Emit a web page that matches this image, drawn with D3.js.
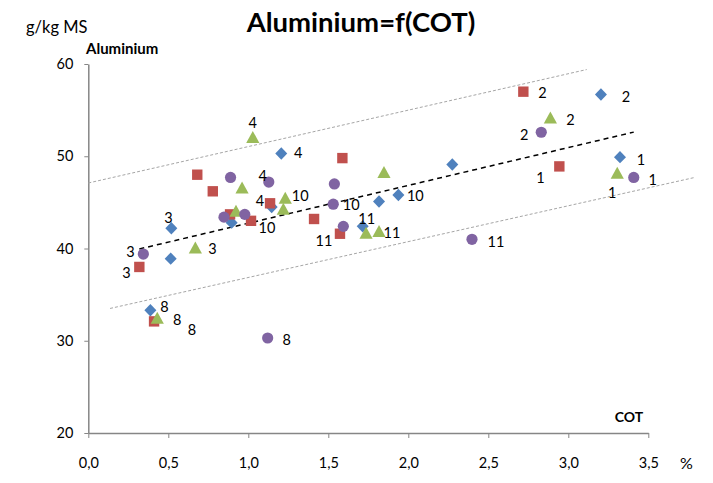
<!DOCTYPE html>
<html>
<head>
<meta charset="utf-8">
<script src="https://cdn.jsdelivr.net/npm/d3@7"></script>
<style>
  html, body { margin: 0; padding: 0; background: #ffffff; }
  svg { display: block; }
  text { font-family: Lato, "Open Sans", sans-serif; fill: #000; }
</style>
</head>
<body>
<svg id="chart" width="713" height="483"></svg>
<script>
// Aluminium content (g/kg MS) against total organic carbon (COT, %), four sampling campaigns
const seriesNames = ["Campagne 1", "Campagne 2", "Campagne 3", "Campagne 4"];

const cotBlue = [0.388, 0.519, 0.515, 0.896, 1.146, 1.206, 1.715, 1.817, 1.938, 2.275, 3.204, 3.323];
const alBlue  = [33.3, 42.2, 38.9, 42.8, 44.5, 50.3, 42.4, 45.1, 45.8, 49.1, 56.7, 49.9];
const lblBlue = ["8", "3", null, null, null, "4", "11", null, "10", null, "2", "1"];

const cotRed = [0.411, 0.319, 0.681, 0.778, 0.886, 1.017, 1.136, 1.411, 1.588, 1.573, 2.719, 2.944];
const alRed  = [32.1, 38.0, 48.0, 46.2, 43.7, 43.0, 44.9, 43.2, 49.8, 41.6, 57.0, 48.9];
const lblRed = ["8", "3", null, null, null, "10", "4", null, null, "11", "2", "1"];

const cotGreen = [0.431, 0.669, 0.923, 0.961, 1.028, 1.231, 1.219, 1.736, 1.817, 1.848, 2.888, 3.306];
const alGreen  = [32.5, 40.1, 44.1, 46.6, 52.1, 45.5, 44.3, 41.7, 41.9, 48.3, 54.2, 48.2];
const lblGreen = ["8", "3", null, null, "4", "10", null, null, "11", null, "2", "1"];

const cotPurple = [0.344, 0.848, 0.889, 0.978, 1.128, 1.538, 1.531, 1.594, 1.121, 2.398, 2.831, 3.409];
const alPurple  = [39.4, 43.4, 47.7, 43.7, 47.2, 47.0, 44.8, 42.4, 30.3, 41.0, 52.6, 47.7];
const lblPurple = ["3", null, null, null, "4", null, "10", null, "8", "11", "2", "1"];

// Linear trend y = slope * x + intercept, drawn over the range of the data
const trendSlope = 4.10;
const trendIntercept = 38.64;

// Dispersion envelope around the trend: [x, y] end points
const envelopeUpper = [[0.0, 47.1], [3.115, 59.4]];
const envelopeLower = [[0.136, 33.5], [3.79, 47.7]];

const xTicks = [0, 0.5, 1, 1.5, 2, 2.5, 3, 3.5];
const yTicks = [20, 30, 40, 50, 60];

// ---- styling / placement ----
const colors = ["#4F81BD", "#C0504D", "#9BBB59", "#8064A2"];
const shapes = ["diamond", "square", "triangle", "circle"];

// label offsets (px) from the marker centre, per series, keyed by label
const labelOffsets = [
  { "8": [14, -4], "3": [-3, -11], "4": [17, -1], "11": [4, -8], "10": [17, 1], "2": [25, 2], "1": [21, 2] },
  { "8": [38, 8], "3": [-13, 6], "10": [16, 7], "4": [-10, -3], "11": [-16, 7], "2": [19, 1], "1": [-19, 11] },
  { "8": [20, 2], "3": [17, 1], "4": [0, -14], "10": [15, -2], "11": [13, 2], "2": [20, 2], "1": [-5, 20] },
  { "3": [-13, -3], "4": [-6, -7], "10": [18, 0], "8": [19, 2], "11": [24, 2], "2": [-17, 2], "1": [19, 2] }
];

const series = [
  { x: cotBlue, y: alBlue, lbl: lblBlue },
  { x: cotRed, y: alRed, lbl: lblRed },
  { x: cotGreen, y: alGreen, lbl: lblGreen },
  { x: cotPurple, y: alPurple, lbl: lblPurple }
].map((s, i) => ({
  name: seriesNames[i], color: colors[i], shape: shapes[i], offsets: labelOffsets[i],
  points: s.x.map((v, j) => ({ cot: v, al: s.y[j], label: s.lbl[j] }))
}));

const svg = d3.select("#chart");
svg.append("rect").attr("width", 713).attr("height", 483).attr("fill", "#fff");

const x = d3.scaleLinear().domain([0, 3.5]).range([88.3, 648.3]);
const y = d3.scaleLinear().domain([20, 60]).range([433, 64]);

const fmt = v => d3.format(".1f")(v).replace(".", ",");

// axes
const axisColor = "#868686";
const gx = svg.append("g").attr("transform", "translate(0,433)")
  .call(d3.axisBottom(x).tickValues(xTicks).tickFormat(fmt).tickSize(5).tickSizeOuter(0).tickPadding(20));
const gy = svg.append("g").attr("transform", "translate(88.3,0)")
  .call(d3.axisLeft(y).tickValues(yTicks).tickSize(4).tickSizeOuter(0).tickPadding(11));
[gx, gy].forEach(g => {
  g.select(".domain").attr("stroke", axisColor).attr("stroke-width", 1.5);
  g.selectAll(".tick line").attr("stroke", axisColor).attr("stroke-width", 1);
  g.selectAll(".tick text").attr("font-family", "Lato, sans-serif").attr("font-size", 14.5).attr("fill", "#000");
});

// envelope lines
const line = d3.line().x(d => x(d[0])).y(d => y(d[1]));
[envelopeUpper, envelopeLower].forEach(seg => {
  svg.append("path").attr("d", line(seg))
    .attr("fill", "none").attr("stroke", "#a6a6a6").attr("stroke-width", 1)
    .attr("stroke-dasharray", "3,2");
});

// trend line over the data extent
const allCot = series.flatMap(s => s.points.map(p => p.cot));
const [xmin, xmax] = d3.extent(allCot);
svg.append("path")
  .attr("d", line([[xmin, trendSlope * xmin + trendIntercept], [xmax, trendSlope * xmax + trendIntercept]]))
  .attr("fill", "none").attr("stroke", "#000").attr("stroke-width", 1.5)
  .attr("stroke-dasharray", "5,4");

// marker shapes, centred on their bounding box
function markerPath(shape) {
  switch (shape) {
    case "diamond": return "M0,-6.2L6,0L0,6.2L-6,0Z";
    case "square": return "M-5.2,-5.2H5.2V5.2H-5.2Z";
    case "triangle": return "M0,-6L6.6,6H-6.6Z";
    default: return d3.arc()({ innerRadius: 0, outerRadius: 5.6, startAngle: 0, endAngle: 2 * Math.PI });
  }
}

series.forEach(s => {
  const g = svg.append("g");
  g.selectAll("path.mark").data(s.points).join("path")
    .attr("class", "mark")
    .attr("d", markerPath(s.shape))
    .attr("transform", d => `translate(${x(d.cot)},${y(d.al)})`)
    .attr("fill", s.color);
});

// point labels
series.forEach(s => {
  svg.append("g").selectAll("text").data(s.points.filter(p => p.label)).join("text")
    .attr("x", d => x(d.cot) + s.offsets[d.label][0])
    .attr("y", d => y(d.al) + s.offsets[d.label][1])
    .attr("text-anchor", "middle")
    .attr("dominant-baseline", "central")
    .attr("font-size", 14.5)
    .text(d => d.label);
});

// titles
svg.append("text").attr("x", 361).attr("y", 32).attr("text-anchor", "middle")
  .attr("font-size", 27.5).attr("font-weight", "bold").text("Aluminium=f(COT)");
svg.append("text").attr("x", 26).attr("y", 33).attr("font-size", 16.5).text("g/kg MS");
svg.append("text").attr("x", 86).attr("y", 54).attr("font-size", 15).attr("font-weight", "bold").text("Aluminium");
svg.append("text").attr("x", 629).attr("y", 421.5).attr("text-anchor", "middle")
  .attr("font-size", 14).attr("font-weight", "bold").text("COT");
svg.append("text").attr("x", 686.5).attr("y", 469).attr("text-anchor", "middle")
  .attr("font-size", 16).text("%");
</script>
</body>
</html>
